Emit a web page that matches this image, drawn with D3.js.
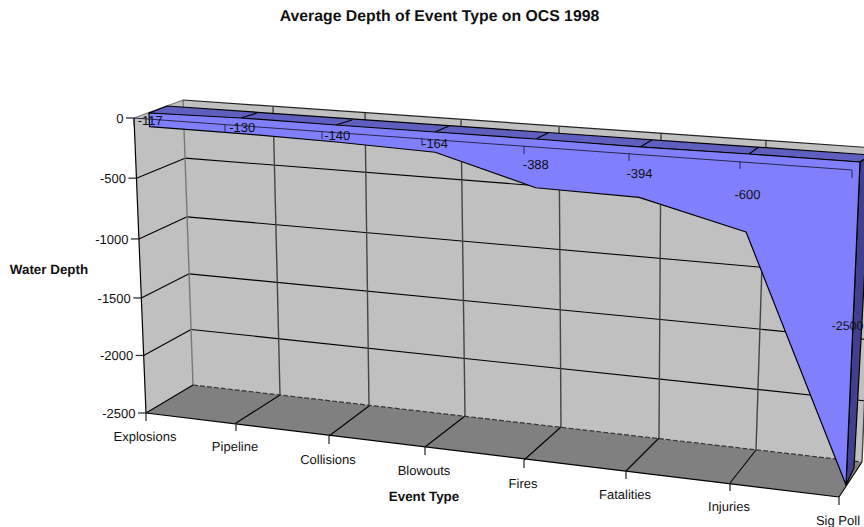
<!DOCTYPE html>
<html><head><meta charset="utf-8">
<script src="https://cdnjs.cloudflare.com/ajax/libs/d3/7.8.5/d3.min.js"></script>
<style>html,body{margin:0;padding:0;background:#fff;overflow:hidden}svg{display:block;font-family:"Liberation Sans",Arial,sans-serif;text-rendering:geometricPrecision}</style>
</head><body><div id="chart"></div>
<script>
const categories = ["Explosions","Pipeline","Collisions","Blowouts","Fires","Fatalities","Injuries","Sig Poll"];
const depths = [-117,-130,-140,-164,-388,-394,-600,-2500];
const depthTicks = [0,-500,-1000,-1500,-2000,-2500];
const titleText = "Average Depth of Event Type on OCS 1998";
const xTitle = "Event Type";
const yTitle = "Water Depth";

const W = 864, H = 527;
const svg = d3.select("#chart").append("svg").attr("width",W).attr("height",H);
const idx = categories.map((d,i)=>i);

// vertical value scale (slightly compressed towards the floor, as in a 3-D view)
const tScale = d3.scaleLinear().domain(depthTicks).range([0,.204,.41,.61,.805,1]);

// Every depth plane of the 3-D box is described by its top and bottom edge.
function plane(xTop,yTop,xBot,yBot){
  const s = a => d3.scaleLinear().domain(idx).range(a);
  const xt=s(xTop), yt=s(yTop), xb=s(xBot), yb=s(yBot);
  return (i,v)=>{const t=tScale(v);return [xt(i)+(xb(i)-xt(i))*t, yt(i)+(yb(i)-yt(i))*t];};
}
const wallFront = plane([134,225,322,422,524,629,740,852],[118,124,131,138,146,153,161,170],
                        [146,236,329,425,524,626,730,839],[413,423,436,447,460,471,483,497]);
const wallBack  = plane([183,273,365,461,559,661,766,875],[100,107,113,120,127,133,141,148],
                        [193,280,369,465,561,659,756,862],[385,395,406,416,427,438,450,462]);
const ribFront  = plane([149,241,336,435,536,640,749,860],[113,118,125,132,139,147,154,162],
                        [159,248,342,437,534,634,737,846],[400,411,423,435,447,460,472,485]);
const ribBack   = plane([167,257,352,449,548,652,759,871],[106,113,120,126,133,140,147,155],
                        [178,264,356,452,546,646,748,854],[392,403,414,426,438,449,458,468]);

const line = d3.line();
const poly = (pts,fill,stroke="#000",sw=1)=>svg.append("path").attr("d",line(pts)+"Z")
  .attr("fill",fill).attr("stroke",stroke).attr("stroke-width",sw).attr("stroke-linejoin","round");
const seg = (a,b,stroke="#000",sw=1)=>svg.append("path").attr("d",line([a,b])).attr("stroke",stroke).attr("stroke-width",sw).attr("fill","none");
const last = idx.length-1, zero = depthTicks[0], floor = depthTicks[depthTicks.length-1];

// walls and floor
poly([wallFront(0,zero),wallBack(0,zero),wallBack(0,floor),wallFront(0,floor)],"#c0c0c0","none");
poly([wallBack(0,zero),wallBack(last,zero),wallBack(last,floor),wallBack(0,floor)],"#c0c0c0","none");
poly([wallFront(0,floor),wallBack(0,floor),wallBack(last,floor),wallFront(last,floor)],"#808080","none");

// grid
depthTicks.slice(1,-1).forEach(v=>{
  seg(wallFront(0,v),wallBack(0,v),"#000",1.1);
  seg(wallBack(0,v),wallBack(last,v),"#000",1.1);
});
idx.forEach(i=>{
  seg(wallBack(i,zero),wallBack(i,floor),i===0?"#777":"#444",1.4);
  seg(wallFront(i,floor),wallBack(i,floor),"#000",1.1);
});
seg(wallFront(0,zero),wallBack(0,zero),"#777",1.2);
seg(wallBack(0,zero),wallBack(last,zero),"#222",1.2);
svg.append("path").attr("d",line([wallBack(0,floor),wallBack(last,floor)])).attr("stroke","#333").attr("stroke-width",1.2).attr("stroke-dasharray","5 2").attr("fill","none");
seg(wallFront(0,zero),wallFront(0,floor),"#000",1.2);
seg(wallFront(0,floor),wallFront(last,floor),"#000",1.2);

// series ribbon
poly([ribFront(0,zero),ribBack(0,zero),ribBack(last,zero),ribFront(last,zero)],"#5f5fbf","#000",1.2);
idx.slice(1,-1).forEach(i=>seg(ribFront(i,zero),ribBack(i,zero),"#000",1.2));
poly([ribFront(last,zero),ribBack(last,zero),ribBack(last,depths[last]),ribFront(last,depths[last])],"#40408f","#000",1.2);
const areaPts = idx.map(i=>ribFront(i,zero)).concat(idx.map(i=>ribFront(i,depths[i])).reverse());
poly(areaPts,"#8080ff","#000",1.2);

// value leader line on the front plane
seg(wallFront(0,zero),wallFront(last,zero),"#26264d");
idx.forEach(i=>{const p=wallFront(i,zero);seg(p,[p[0],p[1]+8],"#26264d");});

// value labels: middle of each filled column (the last is pulled in so it stays on the page)
svg.append("g").selectAll("text").data(depths).join("text")
  .attr("x",(d,i)=>i===last?863.5:(ribFront(i,zero)[0]+ribFront(i,d)[0])/2+(i<3?1:0))
  .attr("y",(d,i)=>(ribFront(i,zero)[1]+ribFront(i,d)[1])/2+(i===0?5:6))
  .attr("text-anchor",(d,i)=>i===last?"end":"middle")
  .attr("font-size",(d,i)=>i===last?12.5:13).attr("fill","#111").text(d=>d);

// axes
depthTicks.forEach(v=>{
  const p=wallFront(0,v);
  seg([p[0]-8,p[1]],p,"#222",1.2);
  svg.append("text").attr("x",p[0]-10.5).attr("y",p[1]+5).attr("text-anchor","end").attr("font-size",13).attr("fill","#111").text(v);
});
categories.forEach((c,i)=>{
  const p=wallFront(i,floor);
  seg(p,[p[0],p[1]+8],"#222",1.2);
  svg.append("text").attr("x",p[0]-1).attr("y",p[1]+28).attr("text-anchor","middle").attr("font-size",13).attr("fill","#111").text(c);
});

// titles
svg.append("text").attr("x",439.5).attr("y",21).attr("text-anchor","middle").attr("font-size",15.8).attr("font-weight","bold").attr("fill","#111").text(titleText);
svg.append("text").attr("x",49).attr("y",274).attr("text-anchor","middle").attr("font-size",13.4).attr("font-weight","bold").attr("fill","#111").text(yTitle);
svg.append("text").attr("x",424).attr("y",501).attr("text-anchor","middle").attr("font-size",13.4).attr("font-weight","bold").attr("fill","#111").text(xTitle);
</script></body></html>
